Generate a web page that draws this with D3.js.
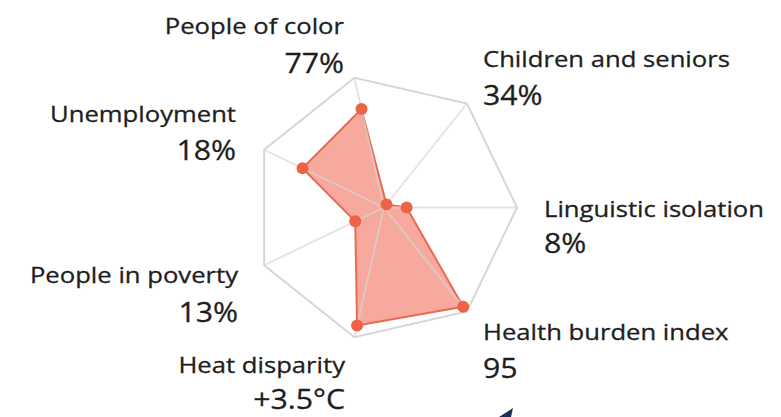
<!DOCTYPE html>
<html>
<head>
<meta charset="utf-8">
<title>Radar</title>
<style>
  body { margin: 0; background: #fff; }
  svg text { font-family: "Open Sans", "Noto Sans", sans-serif; fill: #1e1e1e; stroke: #1e1e1e; stroke-width: 0.3px; }
</style>
</head>
<body>
<svg width="781" height="417"></svg>
<script src="https://d3js.org/d3.v7.min.js"></script>
<script>
// axes go clockwise starting from the right-hand spoke
var categories = ["Linguistic isolation", "Health burden index", "Heat disparity",
                  "People in poverty", "Unemployment", "People of color", "Children and seniors"];
var valueLabels = ["8%", "95", "+3.5°C", "13%", "18%", "77%", "34%"];
// plotted score (share of the outer ring)
var scores = [0.17, 0.955, 0.91, 0.24, 0.68, 0.76, 0.03];

// label anchors: [anchor, x, name baseline, value baseline]
var labelPos = [
  ["start", 544, 217, 253],
  ["start", 483, 340, 378],
  ["end", 345, 373, 409],
  ["end", 238, 283, 322],
  ["end", 236, 122, 160],
  ["end", 344, 34, 73],
  ["start", 483, 67, 105]
];

var svg = d3.select("svg"),
    cx = 384, cy = 207.5, R = 133;

var n = categories.length;
var angle = d3.scaleLinear().domain([0, n]).range([0, 2 * Math.PI]);
var r = d3.scaleLinear().domain([0, 1]).range([0, R]);

function pt(i, v) {
  var a = angle(i);
  return [cx + r(v) * Math.cos(a), cy + r(v) * Math.sin(a)];
}

var grid = svg.append("g");
// outer ring
grid.append("path")
    .attr("d", d3.line()(d3.range(n).map(function(i) { return pt(i, 1); })) + "Z")
    .attr("fill", "none")
    .attr("stroke", "#d6d6d6")
    .attr("stroke-width", 2);

// the data shape
svg.append("path")
    .attr("d", d3.line()(scores.map(function(v, i) { return pt(i, v); })) + "Z")
    .attr("fill", "#f07560")
    .attr("fill-opacity", 0.62)
    .attr("stroke", "#ec6a52")
    .attr("stroke-width", 2)
    .attr("stroke-linejoin", "round");

// spokes go on top of the fill
svg.append("g").selectAll("line")
  .data(d3.range(n))
  .enter().append("line")
    .attr("x1", cx).attr("y1", cy)
    .attr("x2", function(i) { return pt(i, 1)[0]; })
    .attr("y2", function(i) { return pt(i, 1)[1]; })
    .attr("stroke", "#d6d6d6")
    .attr("stroke-opacity", 0.7)
    .attr("stroke-width", 1.8);

svg.append("g").selectAll("circle")
  .data(scores)
  .enter().append("circle")
    .attr("cx", function(v, i) { return pt(i, v)[0]; })
    .attr("cy", function(v, i) { return pt(i, v)[1]; })
    .attr("r", 6)
    .attr("fill", "#ee6246");

// labels: the source font runs a bit wide, so stretch horizontally
var labels = svg.append("g").selectAll("g")
  .data(categories)
  .enter().append("g");

labels.append("text")
    .attr("text-anchor", function(d, i) { return labelPos[i][0]; })
    .attr("transform", function(d, i) { return "translate(" + labelPos[i][1] + "," + labelPos[i][2] + ") scale(1.14,1)"; })
    .attr("font-size", 22.5)
    .text(function(d) { return d; });

labels.append("text")
    .attr("text-anchor", function(d, i) { return labelPos[i][0]; })
    .attr("transform", function(d, i) { return "translate(" + labelPos[i][1] + "," + labelPos[i][3] + ") scale(1.08,1)"; })
    .attr("font-size", 28)
    .text(function(d, i) { return valueLabels[i]; });

// bit of a cursor cut off at the bottom edge
svg.append("path")
    .attr("d", "M499,417L513,408L511,417Z")
    .attr("fill", "#1c2f55");
</script>
</body>
</html>
